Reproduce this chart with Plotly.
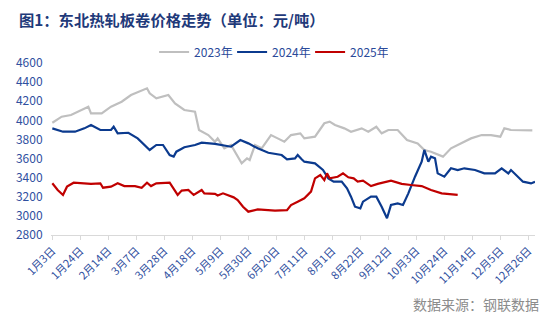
import plotly.graph_objects as go

# ---- data (month-day, value in 元/吨) ----
d2023 = ["01-03","01-10","01-17","01-30","02-01","02-09","02-16","02-24","03-03","03-11","03-15","03-17",
         "03-22","03-31","04-05","04-12","04-20","04-23","04-30","05-05","05-07","05-12","05-17","05-25",
         "05-29","05-31","06-04","06-09","06-16","06-21","06-26","07-01","07-08","07-11","07-19","07-26",
         "07-30","08-03","08-10","08-15","08-23","08-28","09-03","09-07","09-12","09-19","09-26","10-04",
         "10-09","10-14","10-23","10-29","11-06","11-13","11-21","11-28","12-05","12-08","12-13","12-21",
         "12-28","12-29"]
v2023 = [3975,4038,4056,4143,4073,4073,4143,4195,4265,4317,4335,4283,
         4230,4265,4178,4108,4090,3899,3846,3776,3811,3707,3742,3550,
         3602,3585,3742,3707,3846,3811,3776,3846,3864,3811,3829,3969,
         3986,3951,3916,3881,3916,3881,3933,3864,3899,3899,3794,3759,
         3690,3672,3620,3707,3759,3811,3846,3846,3829,3916,3899,3899,
         3899,3895]

d2024 = ["01-03","01-11","01-20","01-27","02-01","02-08","02-16","02-18","02-21","03-01","03-08","03-13",
         "03-17","03-22","03-27","04-01","04-04","04-06","04-12","04-20","04-25","05-05","05-17","05-24",
         "05-30","06-06","06-14","06-24","06-28","07-04","07-06","07-09","07-11","07-19","07-25","07-29",
         "08-02","08-08","08-12","08-15","08-18","08-22","08-24","08-30","09-03","09-07","09-11","09-14",
         "09-19","09-23","09-27","10-02","10-07","10-09","10-12","10-14","10-17","10-19","10-24","10-29",
         "11-03","11-08","11-16","11-23","12-01","12-06","12-11","12-13","12-18","12-22","12-28","12-31"]
v2024 = [3916,3881,3881,3916,3951,3899,3899,3933,3864,3870,3811,3742,
         3690,3742,3742,3637,3620,3672,3718,3742,3766,3753,3724,3794,
         3759,3707,3661,3637,3592,3602,3637,3592,3567,3550,3480,3393,
         3358,3358,3288,3201,3096,3079,3149,3201,3201,3096,2975,3114,
         3131,3114,3236,3410,3567,3690,3567,3620,3602,3445,3410,3498,
         3480,3498,3480,3445,3445,3498,3445,3480,3410,3358,3340,3358]

d2025 = ["01-03","01-07","01-11","01-14","01-19","02-01","02-08","02-10","02-16","02-21","02-26","03-06",
         "03-11","03-15","03-18","03-22","04-01","04-05","04-07","04-10","04-15","04-19","04-25","04-27",
         "05-05","05-07","05-11","05-19","05-22","05-26","05-30","06-06","06-19","06-28","07-01","07-06",
         "07-11","07-16","07-19","07-23","07-26","07-28","07-30","08-05","08-09","08-13","08-17","08-20",
         "08-24","08-30","09-04","09-14","09-22","09-29","10-07","10-14","10-22","11-03"]
v2025 = [3341,3271,3219,3306,3347,3335,3341,3295,3306,3341,3312,3312,
         3295,3347,3312,3341,3347,3254,3219,3265,3271,3219,3271,3236,
         3230,3213,3236,3194,3166,3096,3044,3068,3056,3061,3114,3149,
         3184,3254,3393,3428,3375,3445,3393,3410,3445,3404,3393,3358,
         3369,3312,3335,3369,3335,3323,3312,3271,3236,3219]

tick_dates = ["01-03","01-24","02-14","03-07","03-28","04-18","05-09","05-30","06-20",
              "07-11","08-01","08-22","09-12","10-03","10-24","11-14","12-05","12-26"]
tick_labels = ["1月3日","1月24日","2月14日","3月7日","3月28日","4月18日","5月9日","5月30日","6月20日",
               "7月11日","8月1日","8月22日","9月12日","10月3日","10月24日","11月14日","12月5日","12月26日"]

YEAR = "2023-"  # dummy non-leap year for the month-day axis
def to_x(ds):
    return [YEAR + d for d in ds]

FONT = "Noto Sans CJK SC"
fig = go.Figure()
fig.add_trace(go.Scatter(x=to_x(d2023), y=v2023, name="2023年", mode="lines",
                         line=dict(color="#BFBFBF", width=2.2)))
fig.add_trace(go.Scatter(x=to_x(d2024), y=v2024, name="2024年", mode="lines",
                         line=dict(color="#0B3A8E", width=2.2)))
fig.add_trace(go.Scatter(x=to_x(d2025), y=v2025, name="2025年", mode="lines",
                         line=dict(color="#C00000", width=2.2)))

fig.update_layout(
    width=550, height=324,
    margin=dict(l=51, r=15, t=63, b=89),
    paper_bgcolor="white", plot_bgcolor="white",
    font=dict(family=FONT, size=11, color="#2F4FA0"),
    showlegend=True,
    legend=dict(orientation="h", x=0.213, xanchor="left", y=1.064, yanchor="middle",
                font=dict(size=12, color="#2A4A9A"), bgcolor="rgba(0,0,0,0)",
                itemwidth=30, tracegroupgap=0, entrywidth=33, entrywidthmode="pixels"),
    xaxis=dict(type="date", range=[YEAR + "01-02", YEAR + "12-31"],
               tickvals=to_x(tick_dates), ticktext=tick_labels, tickangle=-45,
               showgrid=False, showline=True, linecolor="#D9D9D9", linewidth=1.3,
               ticks="outside", ticklen=4, tickcolor="#D9D9D9",
               tickfont=dict(size=11, color="#2F4FA0"), zeroline=False),
    yaxis=dict(range=[2800, 4600], dtick=200, tick0=2800, showgrid=False, showline=False,
               zeroline=False, ticks="outside", ticklen=5, tickcolor="rgba(0,0,0,0)",
               tickfont=dict(size=12, color="#2F4FA0")),
    annotations=[
        dict(text="<b>图1：东北热轧板卷价格走势（单位：元/吨）</b>", xref="paper", yref="paper",
             x=(17 - 51) / 484, y=(235 - 19) / 172, xanchor="left", yanchor="middle",
             showarrow=False, font=dict(family=FONT, size=15.3, color="#1F3A7A")),
        dict(text="数据来源：钢联数据", xref="paper", yref="paper",
             x=(541 - 51) / 484, y=(235 - 304) / 172, xanchor="right", yanchor="middle",
             showarrow=False, font=dict(family=FONT, size=14, color="#8C8C8C")),
    ],
)

fig.write_html("out.html")
